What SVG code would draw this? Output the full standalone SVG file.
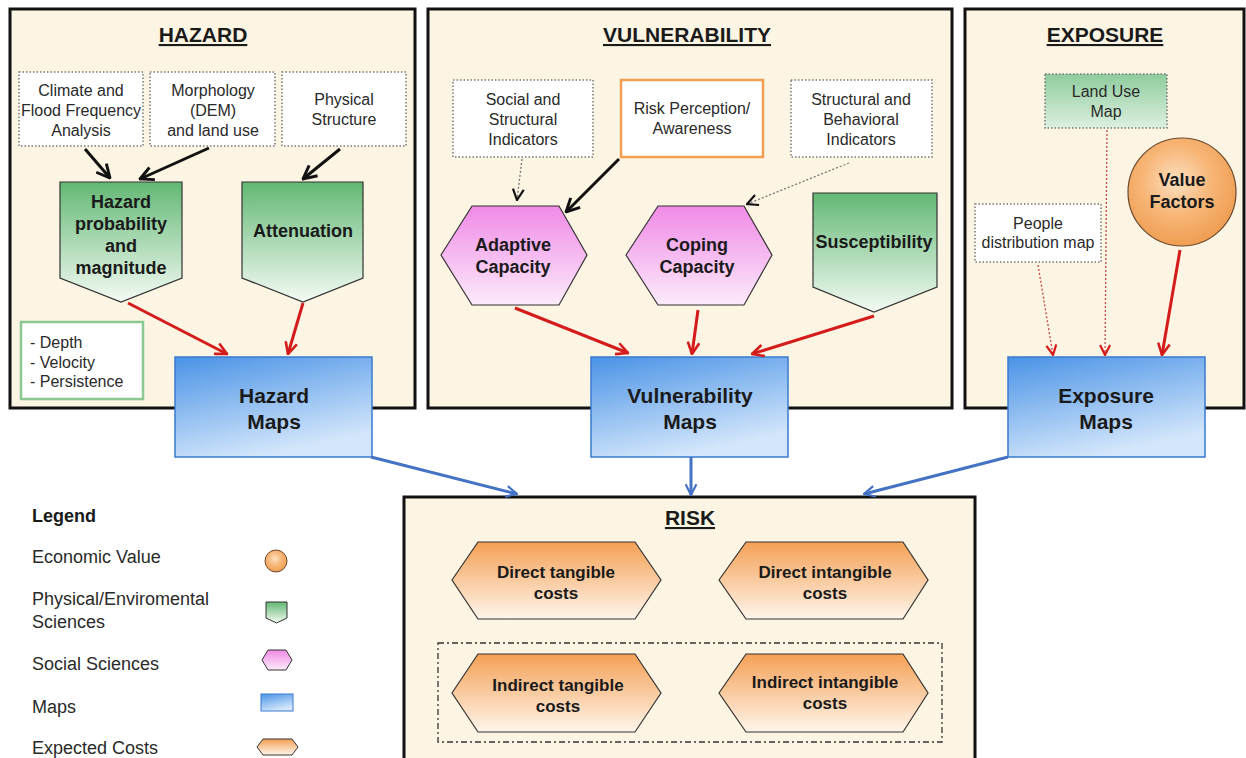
<svg xmlns="http://www.w3.org/2000/svg" width="1246" height="758" viewBox="0 0 1246 758">
<style>
text{font-family:"Liberation Sans",Arial,sans-serif;fill:#1a1a1a}
.panel{fill:#fdf5e3;stroke:#111;stroke-width:3}
.title{font-size:21px;font-weight:bold;text-anchor:middle;text-decoration:underline}
.dot{fill:#fff;stroke:#777;stroke-width:1.5;stroke-dasharray:1.5 2}
.t{font-size:16px;text-anchor:middle;fill:#2a2a2a}
.b{font-size:18px;font-weight:bold;text-anchor:middle}
.c{font-size:17px;font-weight:bold;text-anchor:middle}
.m{font-size:21px;font-weight:bold;text-anchor:middle}
.lg{font-size:18px;fill:#2a2a2a}
.red{stroke:#d41c1c;stroke-width:3;fill:none}
.blk{stroke:#111;stroke-width:3;fill:none}
.blue{stroke:#4472c4;stroke-width:3;fill:none}
.rdot{stroke:#c44;stroke-width:1.3;fill:none;stroke-dasharray:2 2}
.gdot{stroke:#777;stroke-width:1.3;fill:none;stroke-dasharray:2 2}
.green{fill:url(#gGreen);stroke:#333;stroke-width:1.2}
.pink{fill:url(#gPink);stroke:#333;stroke-width:1.2}
.map{fill:url(#gBlue);stroke:#3a7ad0;stroke-width:1.5}
.cost{fill:url(#gOrange);stroke:#333;stroke-width:1.2}
</style>
<defs>
<linearGradient id="gGreen" x1="0" y1="0" x2="0" y2="1"><stop offset="0" stop-color="#63b874"/><stop offset="1" stop-color="#f4fbf4"/></linearGradient>
<linearGradient id="gPink" x1="0" y1="0" x2="0" y2="1"><stop offset="0" stop-color="#f08ae6"/><stop offset="1" stop-color="#fcebfb"/></linearGradient>
<linearGradient id="gBlue" x1="0" y1="0" x2="0.4" y2="1"><stop offset="0" stop-color="#4a93e6"/><stop offset="1" stop-color="#d3e6fb"/></linearGradient>
<linearGradient id="gOrange" x1="0" y1="0" x2="0" y2="1"><stop offset="0" stop-color="#f4a055"/><stop offset="1" stop-color="#fff6ec"/></linearGradient>
<linearGradient id="gLand" x1="0" y1="0" x2="0" y2="1"><stop offset="0" stop-color="#8fcc9c"/><stop offset="1" stop-color="#dcf0e0"/></linearGradient>
<radialGradient id="gCircle" cx="0.45" cy="0.4" r="0.65"><stop offset="0" stop-color="#fde0c0"/><stop offset="0.5" stop-color="#f7b576"/><stop offset="1" stop-color="#ee9a4c"/></radialGradient>
<marker id="aRed" viewBox="0 0 12 12" refX="11" refY="6" markerWidth="14" markerHeight="14" markerUnits="userSpaceOnUse" orient="auto"><path d="M1,1 L11,6 L1,11" fill="none" stroke="#d41c1c" stroke-width="2.2"/></marker>
<marker id="aBlk" viewBox="0 0 12 12" refX="11" refY="6" markerWidth="16" markerHeight="16" markerUnits="userSpaceOnUse" orient="auto"><path d="M1,1 L11,6 L1,11" fill="none" stroke="#111" stroke-width="2.2"/></marker>
<marker id="aBlue" viewBox="0 0 12 12" refX="11" refY="6" markerWidth="13" markerHeight="13" markerUnits="userSpaceOnUse" orient="auto"><path d="M1,1 L11,6 L1,11" fill="none" stroke="#4472c4" stroke-width="2"/></marker>
<marker id="aGray" viewBox="0 0 12 12" refX="11" refY="6" markerWidth="13" markerHeight="13" markerUnits="userSpaceOnUse" orient="auto"><path d="M1,1 L11,6 L1,11" fill="none" stroke="#111" stroke-width="2"/></marker>
<marker id="aRedS" viewBox="0 0 12 12" refX="11" refY="6" markerWidth="12" markerHeight="12" markerUnits="userSpaceOnUse" orient="auto"><path d="M1,1 L11,6 L1,11" fill="none" stroke="#d41c1c" stroke-width="2.2"/></marker>
</defs>
<rect width="1246" height="758" fill="#fff"/>

<g id="panel-hazard">
<rect class="panel" x="10" y="9" width="405" height="399"/>
<text class="title" x="203" y="42">HAZARD</text>
</g>
<g id="panel-vulnerability">
<rect class="panel" x="428" y="9" width="524" height="399"/>
<text class="title" x="687" y="42">VULNERABILITY</text>
</g>
<g id="panel-exposure">
<rect class="panel" x="965" y="9" width="279" height="399"/>
<text class="title" x="1105" y="42">EXPOSURE</text>
</g>
<g id="panel-risk">
<rect class="panel" x="404" y="497" width="571" height="270"/>
<text class="title" x="690" y="525">RISK</text>
</g>

<g id="climate">
<rect class="dot" x="19" y="72" width="124" height="74"/>
<text class="t" x="81" y="96">Climate and</text>
<text class="t" x="81" y="116">Flood Frequency</text>
<text class="t" x="81" y="136">Analysis</text>
</g>
<g id="morphology">
<rect class="dot" x="150" y="72" width="125" height="74"/>
<text class="t" x="213" y="96">Morphology</text>
<text class="t" x="213" y="116">(DEM)</text>
<text class="t" x="213" y="136">and land use</text>
</g>
<g id="physical">
<rect class="dot" x="282" y="72" width="124" height="74"/>
<text class="t" x="344" y="105">Physical</text>
<text class="t" x="344" y="125">Structure</text>
</g>
<g id="hazard-prob">
<path class="green" d="M60,182 H182 V278 L121,302 L60,278 Z"/>
<text class="b" x="121" y="208">Hazard</text>
<text class="b" x="121" y="230">probability</text>
<text class="b" x="121" y="252">and</text>
<text class="b" x="121" y="274">magnitude</text>
</g>
<g id="attenuation">
<path class="green" d="M242,182 H363 V278 L303,302 L242,278 Z"/>
<text class="b" x="303" y="237">Attenuation</text>
</g>
<g id="depth">
<rect x="21" y="322" width="122" height="77" fill="#fff" stroke="#8cc891" stroke-width="2.5"/>
<text class="lg" x="30" y="348" style="font-size:16px">- Depth</text>
<text class="lg" x="30" y="368" style="font-size:16px">- Velocity</text>
<text class="lg" x="30" y="387" style="font-size:16px">- Persistence</text>
</g>
<g id="hazard-maps">
<rect class="map" x="175" y="357" width="197" height="100"/>
<text class="m" x="274" y="403">Hazard</text>
<text class="m" x="274" y="429">Maps</text>
</g>

<g id="social">
<rect class="dot" x="453" y="80" width="140" height="77"/>
<text class="t" x="523" y="105">Social and</text>
<text class="t" x="523" y="125">Structural</text>
<text class="t" x="523" y="145">Indicators</text>
</g>
<g id="risk-perception">
<rect x="621" y="80" width="142" height="77" fill="#fff" stroke="#f0a050" stroke-width="2.5"/>
<text class="t" x="692" y="114">Risk Perception/</text>
<text class="t" x="692" y="134">Awareness</text>
</g>
<g id="structural">
<rect class="dot" x="791" y="80" width="141" height="77"/>
<text class="t" x="861" y="105">Structural and</text>
<text class="t" x="861" y="125">Behavioral</text>
<text class="t" x="861" y="145">Indicators</text>
</g>
<g id="adaptive">
<path class="pink" d="M441,255 L472,206 H559 L587,255 L559,305 H472 Z"/>
<text class="b" x="513" y="251">Adaptive</text>
<text class="b" x="513" y="273">Capacity</text>
</g>
<g id="coping">
<path class="pink" d="M626,255 L658,206 H744 L772,255 L744,305 H658 Z"/>
<text class="b" x="697" y="251">Coping</text>
<text class="b" x="697" y="273">Capacity</text>
</g>
<g id="susceptibility">
<path class="green" d="M813,193 H937 V287 L874,312 L813,287 Z"/>
<text class="b" x="874" y="248">Susceptibility</text>
</g>
<g id="vulnerability-maps">
<rect class="map" x="591" y="357" width="197" height="100"/>
<text class="m" x="690" y="403">Vulnerability</text>
<text class="m" x="690" y="429">Maps</text>
</g>

<g id="land-use">
<rect x="1045" y="74" width="122" height="54" fill="url(#gLand)" stroke="#777" stroke-width="1.5" stroke-dasharray="1.5 2"/>
<text class="t" x="1106" y="97">Land Use</text>
<text class="t" x="1106" y="117">Map</text>
</g>
<g id="value-factors">
<circle cx="1182" cy="192" r="54" fill="url(#gCircle)" stroke="#6a4a30" stroke-width="1.2"/>
<text class="b" x="1182" y="186">Value</text>
<text class="b" x="1182" y="208">Factors</text>
</g>
<g id="people">
<rect class="dot" x="975" y="204" width="126" height="58"/>
<text class="t" x="1038" y="229">People</text>
<text class="t" x="1038" y="248">distribution map</text>
</g>
<g id="exposure-maps">
<rect class="map" x="1008" y="357" width="197" height="100"/>
<text class="m" x="1106" y="403">Exposure</text>
<text class="m" x="1106" y="429">Maps</text>
</g>

<g id="direct-tangible">
<path class="cost" d="M452,580 L478,542 H635 L661,580 L635,619 H478 Z"/>
<text class="c" x="556" y="578">Direct tangible</text>
<text class="c" x="556" y="599">costs</text>
</g>
<g id="direct-intangible">
<path class="cost" d="M719,580 L746,542 H903 L928,580 L903,619 H746 Z"/>
<text class="c" x="825" y="578">Direct intangible</text>
<text class="c" x="825" y="599">costs</text>
</g>
<g id="indirect-group">
<rect x="438" y="643" width="504" height="99" fill="none" stroke="#333" stroke-width="1.3" stroke-dasharray="6 3 2 3"/>
</g>
<g id="indirect-tangible">
<path class="cost" d="M452,693 L478,654 H635 L661,693 L635,732 H478 Z"/>
<text class="c" x="558" y="691">Indirect tangible</text>
<text class="c" x="558" y="712">costs</text>
</g>
<g id="indirect-intangible">
<path class="cost" d="M719,693 L746,654 H903 L928,693 L903,732 H746 Z"/>
<text class="c" x="825" y="688">Indirect intangible</text>
<text class="c" x="825" y="709">costs</text>
</g>

<g id="legend">
<text x="32" y="522" style="font-size:18px;font-weight:bold">Legend</text>
<text class="lg" x="32" y="563">Economic Value</text>
<circle cx="276" cy="561" r="11" fill="url(#gCircle)" stroke="#6a4a30" stroke-width="1"/>
<text class="lg" x="32" y="605">Physical/Enviromental</text>
<text class="lg" x="32" y="628">Sciences</text>
<path d="M266,602 H287 V618 L276.5,623 L266,618 Z" fill="url(#gGreen)" stroke="#333" stroke-width="1"/>
<text class="lg" x="32" y="670">Social Sciences</text>
<path d="M262,660 L268,650 H286 L292,660 L286,670 H268 Z" fill="url(#gPink)" stroke="#333" stroke-width="1"/>
<text class="lg" x="32" y="713">Maps</text>
<rect x="261" y="694" width="32" height="17" fill="url(#gBlue)" stroke="#3a7ad0" stroke-width="1"/>
<text class="lg" x="32" y="754">Expected Costs</text>
<path d="M257,747 L263,739 H292 L298,747 L292,755 H263 Z" fill="url(#gOrange)" stroke="#333" stroke-width="1"/>
</g>

<g id="connectors">
<line class="blk" x1="85" y1="149" x2="110" y2="178" marker-end="url(#aBlk)"/>
<line class="blk" x1="209" y1="148" x2="140" y2="179" marker-end="url(#aBlk)"/>
<line class="blk" x1="340" y1="149" x2="303" y2="179" marker-end="url(#aBlk)"/>
<line class="red" x1="128" y1="303" x2="227" y2="354" marker-end="url(#aRed)"/>
<line class="red" x1="303" y1="303" x2="288" y2="354" marker-end="url(#aRed)"/>
<line class="gdot" x1="522" y1="159" x2="517" y2="200" marker-end="url(#aGray)"/>
<line class="blk" x1="619" y1="159" x2="566" y2="212" marker-end="url(#aBlk)"/>
<line class="gdot" x1="849" y1="163" x2="747" y2="204" marker-end="url(#aGray)"/>
<line class="red" x1="515" y1="308" x2="628" y2="353" marker-end="url(#aRed)"/>
<line class="red" x1="698" y1="310" x2="692" y2="354" marker-end="url(#aRed)"/>
<line class="red" x1="874" y1="316" x2="752" y2="354" marker-end="url(#aRed)"/>
<line class="rdot" x1="1038" y1="265" x2="1053" y2="355" marker-end="url(#aRedS)"/>
<line class="rdot" x1="1107" y1="130" x2="1105" y2="355" marker-end="url(#aRedS)"/>
<line class="red" x1="1180" y1="250" x2="1162" y2="355" marker-end="url(#aRed)"/>
<line class="blue" x1="371" y1="457" x2="517" y2="494" marker-end="url(#aBlue)"/>
<line class="blue" x1="691" y1="457" x2="691" y2="495" marker-end="url(#aBlue)"/>
<line class="blue" x1="1008" y1="457" x2="864" y2="494" marker-end="url(#aBlue)"/>
</g>
</svg>
